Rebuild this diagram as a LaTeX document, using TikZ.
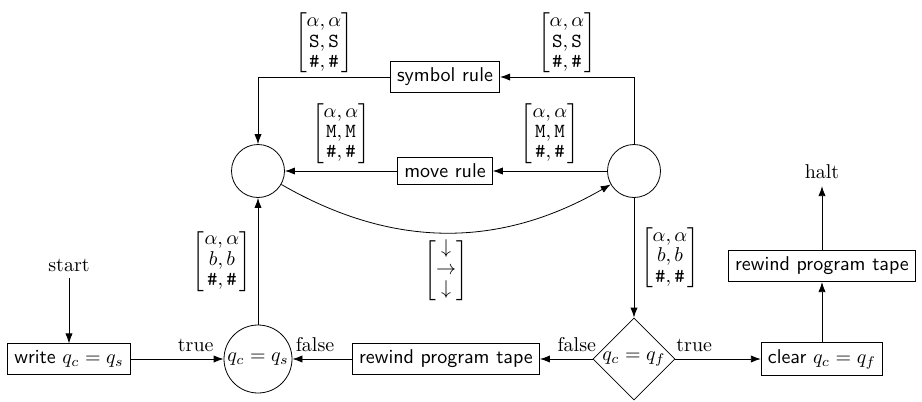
\documentclass[tikz,border=0pt]{standalone}
\usepackage{amsmath, amssymb}
\usepackage{tikz}
\usetikzlibrary{arrows.meta, shapes.geometric}
\tikzset{
  box/.style={draw,font=\sffamily},
  state/.style={draw,circle,inner sep=0pt},
  decision/.style={draw,diamond,inner sep=0pt,minimum size=41pt},
  flow/.style={-{Latex[length=5pt,width=3.6pt]}},
  toplbl/.style={above,inner sep=0pt,yshift=1.5pt},
}
\newcommand{\tmat}[3]{{\renewcommand{\arraystretch}{0.85}$\begin{bmatrix}#1\\#2\\#3\end{bmatrix}$}}
\newcommand{\hs}{\texttt{\#},\texttt{\#}}

\begin{document}
\begin{tikzpicture}[x=0.5pt,y=-0.5pt]
  \useasboundingbox (0,0) rectangle (922,402);
  % states
  \node[state,minimum size=26.5pt] (top) at(258,171){};
  \node[state,minimum size=26.5pt] (rt) at(634,171){};
  \node[state,minimum size=34pt] (qs) at(258,359){$q_c=q_s$};
  \node[decision] (qf) at(634,359){$q_c=q_f$};
  % boxes
  \node[box] (sym) at(445,77){symbol rule};
  \node[box] (mov) at(445,171){move rule};
  \node[box] (init) at(69,359){write $q_c=q_s$};
  \node[box] (rew) at(446,359){rewind program tape};
  \node[box] (clr) at(822,359){clear $q_c=q_f$};
  \node[box] (fin) at(822,266){rewind program tape};
  \node (start) at(69,265){start};
  \node (halt) at(822,172){halt};
  % rule loops
  \draw[flow] (rt) |- node[pos=0.75,toplbl]{\tmat{\alpha,\alpha}{\texttt{S},\texttt{S}}{\hs}} (sym);
  \draw[flow] (sym) -| node[pos=0.25,toplbl]{\tmat{\alpha,\alpha}{\texttt{S},\texttt{S}}{\hs}} (top);
  \draw[flow] (rt) -- node[above]{\tmat{\alpha,\alpha}{\texttt{M},\texttt{M}}{\hs}} (mov);
  \draw[flow] (mov) -- node[above]{\tmat{\alpha,\alpha}{\texttt{M},\texttt{M}}{\hs}} (top);
  \draw[flow] (top) to[bend right=30] node[below]{\tmat{\downarrow}{\rightarrow}{\downarrow}} (rt);
  % main flow
  \draw[flow] (start) -- (init);
  \draw[flow] (init) -- node[pos=0.7,above]{true} (qs);
  \draw[flow] (qs) -- node[left]{\tmat{\alpha,\alpha}{b,b}{\hs}} (top);
  \draw[flow] (rt) -- node[right]{\tmat{\alpha,\alpha}{b,b}{\hs}} (qf);
  \draw[flow] (rew) -- node[pos=0.62,above]{false} (qs);
  \draw[flow] (qf) -- node[pos=0.3,above]{false} (rew);
  \draw[flow] (qf) -- node[pos=0.22,above]{true} (clr);
  \draw[flow] (clr) -- (fin);
  \draw[flow] (fin) -- (halt);
\end{tikzpicture}
\end{document}
